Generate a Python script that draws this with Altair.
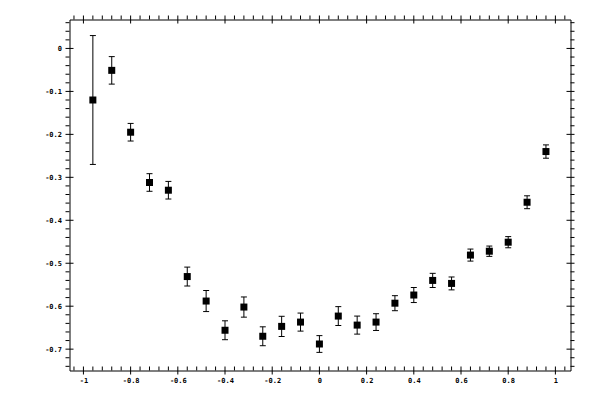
import altair as alt
import pandas as pd

# ---- data ----
x_vals = [-0.96, -0.88, -0.80, -0.72, -0.64, -0.56, -0.48, -0.40, -0.32, -0.24,
          -0.16, -0.08, 0.00, 0.08, 0.16, 0.24, 0.32, 0.40, 0.48, 0.56,
          0.64, 0.72, 0.80, 0.88, 0.96]
y_vals = [-0.120, -0.051, -0.195, -0.312, -0.330, -0.531, -0.588, -0.656, -0.602, -0.670,
          -0.647, -0.637, -0.688, -0.623, -0.644, -0.637, -0.593, -0.574, -0.540, -0.547,
          -0.481, -0.472, -0.451, -0.358, -0.240]
err_vals = [0.150, 0.032, 0.0205, 0.0205, 0.0205, 0.022, 0.0245, 0.022, 0.0235, 0.022,
            0.0235, 0.021, 0.0195, 0.022, 0.021, 0.0195, 0.0175, 0.0175, 0.0165, 0.015,
            0.014, 0.012, 0.013, 0.015, 0.0155]

# ---- tick values ----
x_major = [-1, -0.8, -0.6, -0.4, -0.2, 0, 0.2, 0.4, 0.6, 0.8, 1]
x_minor = [-1.04, -0.96, -0.92, -0.88, -0.84, -0.76, -0.72, -0.68, -0.64, -0.56,
           -0.52, -0.48, -0.44, -0.36, -0.32, -0.28, -0.24, -0.16, -0.12, -0.08,
           -0.04, 0.04, 0.08, 0.12, 0.16, 0.24, 0.28, 0.32, 0.36, 0.44,
           0.48, 0.52, 0.56, 0.64, 0.68, 0.72, 0.76, 0.84, 0.88, 0.92,
           0.96, 1.04]
y_major = [0, -0.1, -0.2, -0.3, -0.4, -0.5, -0.6, -0.7]
y_minor = [0.06, 0.04, 0.02, -0.02, -0.04, -0.06, -0.08, -0.12, -0.14, -0.16,
           -0.18, -0.22, -0.24, -0.26, -0.28, -0.32, -0.34, -0.36, -0.38, -0.42,
           -0.44, -0.46, -0.48, -0.52, -0.54, -0.56, -0.58, -0.62, -0.64, -0.66,
           -0.68, -0.72, -0.74]

df = pd.DataFrame({"x": x_vals, "y": y_vals, "err": err_vals})
df["lo"] = df["y"] - df["err"]
df["hi"] = df["y"] + df["err"]

W, H = 501, 351
FONT = "DejaVu Sans Mono"
FS = 7

xscale = alt.Scale(domain=[-1.059, 1.064], nice=False, zero=False)
yscale = alt.Scale(domain=[-0.7497, 0.0674], nice=False, zero=False)

xaxis = alt.Axis(values=x_major, ticks=False, domain=False, grid=False, title=None,
                 labelFont=FONT, labelFontSize=FS, labelFontWeight="bold", labelColor="black",
                 labelPadding=10, labelBaseline="middle", labelFlush=False,
                 labelOverlap=False, labelExpr="datum.value + ''")
yaxis = alt.Axis(values=y_major, ticks=False, domain=False, grid=False, title=None,
                 labelFont=FONT, labelFontSize=FS, labelFontWeight="bold", labelColor="black",
                 labelPadding=8, labelFlush=False, labelOverlap=False,
                 labelExpr="datum.value + ''")

X = lambda f: alt.X(f, scale=xscale, axis=xaxis)
Y = lambda f: alt.Y(f, scale=yscale, axis=yaxis)

base = alt.Chart(df)
bars = base.mark_rule(color="black", strokeWidth=1).encode(x=X("x:Q"), y=Y("lo:Q"), y2="hi:Q")
cap_lo = base.mark_tick(orient="horizontal", size=6, thickness=1, color="black", opacity=1).encode(
    x=X("x:Q"), y=Y("lo:Q"))
cap_hi = base.mark_tick(orient="horizontal", size=6, thickness=1, color="black", opacity=1).encode(
    x=X("x:Q"), y=Y("hi:Q"))
pts = base.mark_square(size=49, color="black", opacity=1, filled=True).encode(x=X("x:Q"), y=Y("y:Q"))


def xticks(vals, a, b):
    return alt.Chart(pd.DataFrame({"v": vals})).mark_rule(color="black", strokeWidth=1).encode(
        x=X("v:Q"), y=alt.value(a), y2=alt.value(b))


def yticks(vals, a, b):
    return alt.Chart(pd.DataFrame({"v": vals})).mark_rule(color="black", strokeWidth=1).encode(
        y=Y("v:Q"), x=alt.value(a), x2=alt.value(b))


ticks = [
    xticks(x_major, H - 4, H + 4),   # bottom major (crossing)
    xticks(x_minor, H - 4, H),       # bottom minor (inward)
    xticks(x_major, -4, 4),          # top major
    xticks(x_minor, -4, 0),          # top minor (outward)
    yticks(y_major, -4, 4),          # left major
    yticks(y_minor, -4, 0),          # left minor (outward)
    yticks(y_major, W - 4, W + 4),   # right major
    yticks(y_minor, W, W + 4),       # right minor (outward)
]

chart = alt.layer(bars, cap_lo, cap_hi, pts, *ticks).properties(
    width=W, height=H,
    autosize=alt.AutoSizeParams(type="none"),
    padding={"left": 61.5, "top": 11.5, "right": 21, "bottom": 21},
    background="white",
).configure_view(stroke="black", strokeWidth=1)

chart.save("out.html", embed_options={"renderer": "svg", "actions": False})
